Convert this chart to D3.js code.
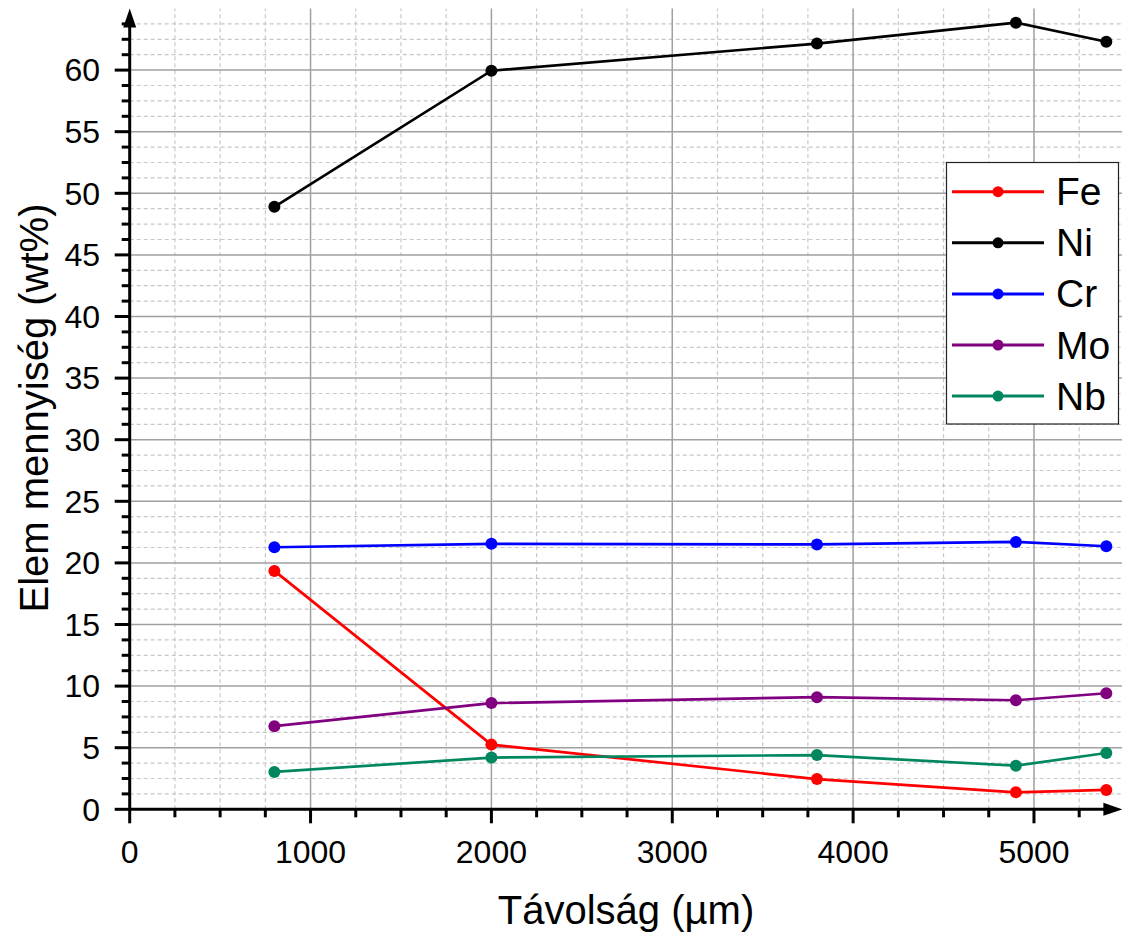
<!DOCTYPE html>
<html>
<head>
<meta charset="utf-8">
<script src="https://cdn.jsdelivr.net/npm/d3@7"></script>
<style>
  html, body { margin: 0; padding: 0; background: #fff; }
  svg { display: block; font-family: "Liberation Sans", Arial, sans-serif; }
</style>
</head>
<body>
<svg id="chart" width="1122" height="936"></svg>
<script>
// ---- Data ----
const distances = [800, 2000, 3800, 4900, 5400];
const feValues = [19.35, 5.25, 2.45, 1.38, 1.57];
const niValues = [48.9, 59.95, 62.15, 63.85, 62.3];
const crValues = [21.27, 21.55, 21.5, 21.7, 21.35];
const moValues = [6.75, 8.62, 9.1, 8.85, 9.42];
const nbValues = [3.03, 4.2, 4.4, 3.54, 4.57];
const seriesNames = ["Fe", "Ni", "Cr", "Mo", "Nb"];
const seriesColors = ["#ff0000", "#000000", "#0000ff", "#800080", "#00875f"];
const xTickValues = [0, 1000, 2000, 3000, 4000, 5000];
const yTickValues = [0, 5, 10, 15, 20, 25, 30, 35, 40, 45, 50, 55, 60];
const xTitle = "Távolság (µm)";
const yTitle = "Elem mennyiség (wt%)";

const series = [feValues, niValues, crValues, moValues, nbValues].map((vals, i) => ({
  name: seriesNames[i], color: seriesColors[i],
  points: distances.map((d, j) => ({ x: d, y: vals[j] }))
}));

// ---- Layout ----
const svg = d3.select("#chart");
const x0 = 129.7, x1 = 1124.4, yb = 809.3, yt = 8.5;
const x = d3.scaleLinear().domain([0, 5500]).range([x0, x1]);
const y = d3.scaleLinear().domain([0, 65]).range([yb, yt]);

// ---- Grid ----
const grid = svg.append("g");
const xMinor = d3.range(250, 5500, 250).filter(v => v % 1000 !== 0);
const yMinor = d3.range(1.25, 65, 1.25).filter(v => Math.abs(v % 5) > 1e-6);
grid.selectAll(".vminor").data(xMinor).enter().append("line")
  .attr("x1", d => x(d)).attr("x2", d => x(d)).attr("y1", yb).attr("y2", yt)
  .attr("stroke", "#c8c8c8").attr("stroke-width", 1.2).attr("stroke-dasharray", "4,3");
grid.selectAll(".hminor").data(yMinor).enter().append("line")
  .attr("x1", x0).attr("x2", x1).attr("y1", d => y(d)).attr("y2", d => y(d))
  .attr("stroke", "#c8c8c8").attr("stroke-width", 1.2).attr("stroke-dasharray", "4,3");
grid.selectAll(".vmajor").data(xTickValues.filter(v => v > 0)).enter().append("line")
  .attr("x1", d => x(d)).attr("x2", d => x(d)).attr("y1", yb).attr("y2", yt)
  .attr("stroke", "#a0a0a0").attr("stroke-width", 1.5);
grid.selectAll(".hmajor").data(yTickValues.filter(v => v > 0)).enter().append("line")
  .attr("x1", x0).attr("x2", x1).attr("y1", d => y(d)).attr("y2", d => y(d))
  .attr("stroke", "#a0a0a0").attr("stroke-width", 1.5);

// ---- Series ----
const line = d3.line().x(d => x(d.x)).y(d => y(d.y));
series.forEach(s => {
  const g = svg.append("g");
  g.append("path").datum(s.points).attr("d", line)
    .attr("fill", "none").attr("stroke", s.color).attr("stroke-width", 2.7);
  g.selectAll("circle").data(s.points).enter().append("circle")
    .attr("cx", d => x(d.x)).attr("cy", d => y(d.y)).attr("r", 6)
    .attr("fill", s.color);
});

// ---- Axes ----
const axes = svg.append("g");
// minor ticks
axes.selectAll(".xmt").data(xMinor).enter().append("line")
  .attr("x1", d => x(d)).attr("x2", d => x(d)).attr("y1", yb).attr("y2", yb + 8)
  .attr("stroke", "#000").attr("stroke-width", 3);
axes.selectAll(".ymt").data(yMinor).enter().append("line")
  .attr("x1", x0 - 8).attr("x2", x0).attr("y1", d => y(d)).attr("y2", d => y(d))
  .attr("stroke", "#000").attr("stroke-width", 3);
// major ticks
axes.selectAll(".xMt").data(xTickValues).enter().append("line")
  .attr("x1", d => x(d)).attr("x2", d => x(d)).attr("y1", yb).attr("y2", yb + 14)
  .attr("stroke", "#000").attr("stroke-width", 3);
axes.selectAll(".yMt").data(yTickValues).enter().append("line")
  .attr("x1", x0 - 15).attr("x2", x0).attr("y1", d => y(d)).attr("y2", d => y(d))
  .attr("stroke", "#000").attr("stroke-width", 3);
// axis lines
axes.append("line").attr("x1", x0).attr("x2", x1 - 12).attr("y1", yb).attr("y2", yb)
  .attr("stroke", "#000").attr("stroke-width", 3);
axes.append("line").attr("x1", x0).attr("x2", x0).attr("y1", yb).attr("y2", yt + 12)
  .attr("stroke", "#000").attr("stroke-width", 3);
// arrows
axes.append("path")
  .attr("d", `M${x1 - 2},${yb} L${x1 - 21},${yb - 6.5} L${x1 - 21},${yb + 6.5} Z`)
  .attr("fill", "#000");
axes.append("path")
  .attr("d", `M${x0},${yt} L${x0 - 6.5},${yt + 19} L${x0 + 6.5},${yt + 19} Z`)
  .attr("fill", "#000");
// tick labels
axes.selectAll(".xl").data(xTickValues).enter().append("text")
  .attr("x", d => x(d)).attr("y", 862.5).attr("text-anchor", "middle")
  .attr("font-size", 32).attr("fill", "#000").text(d => d);
axes.selectAll(".yl").data(yTickValues).enter().append("text")
  .attr("x", 100).attr("y", d => y(d)).attr("dy", "0.35em").attr("text-anchor", "end")
  .attr("font-size", 32).attr("fill", "#000").text(d => d);
// titles
svg.append("text").attr("x", 626).attr("y", 924).attr("text-anchor", "middle")
  .attr("font-size", 40).attr("fill", "#000").text(xTitle);
svg.append("text").attr("transform", "translate(48,408) rotate(-90)")
  .attr("text-anchor", "middle").attr("font-size", 40).attr("fill", "#000").text(yTitle);

// ---- Legend ----
const leg = svg.append("g");
leg.append("rect").attr("x", 946.5).attr("y", 162.5).attr("width", 172).attr("height", 261.5)
  .attr("fill", "#fff").attr("stroke", "#222").attr("stroke-width", 1.2);
series.forEach((s, i) => {
  const cy = 191.7 + i * 51.1;
  leg.append("line").attr("x1", 952).attr("x2", 1044).attr("y1", cy).attr("y2", cy)
    .attr("stroke", s.color).attr("stroke-width", 3);
  leg.append("circle").attr("cx", 998).attr("cy", cy).attr("r", 5.5).attr("fill", s.color);
  leg.append("text").attr("x", 1056).attr("y", cy + 13.5).attr("font-size", 39)
    .attr("fill", "#000").text(s.name);
});
</script>
</body>
</html>
